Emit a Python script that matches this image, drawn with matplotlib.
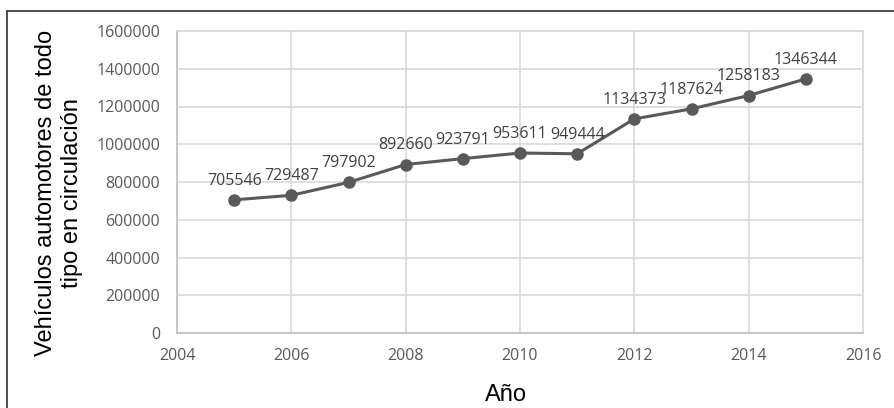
import matplotlib
matplotlib.use("Agg")
import matplotlib.pyplot as plt
from matplotlib.lines import Line2D

years = [2005, 2006, 2007, 2008, 2009, 2010, 2011, 2012, 2013, 2014, 2015]
vehicles = [705546, 729487, 797902, 892660, 923791, 953611, 949444,
            1134373, 1187624, 1258183, 1346344]
x_ticks = [2004, 2006, 2008, 2010, 2012, 2014, 2016]
y_ticks = [0, 200000, 400000, 600000, 800000, 1000000, 1200000, 1400000, 1600000]

W, H = 894, 408
fig = plt.figure(figsize=(W / 100, H / 100), dpi=100)
ax = fig.add_axes([177 / W, (H - 333) / H, (863 - 177) / W, (333 - 31) / H])

line_color = "#595959"
ax.plot(years, vehicles, color=line_color, lw=2.2, marker="o", ms=8,
        markerfacecolor=line_color, markeredgecolor=line_color, zorder=3)

for x, y in zip(years, vehicles):
    ax.annotate(str(y), (x, y), xytext=(0, 8), textcoords="offset points",
                ha="center", va="bottom", fontsize=11.5, color="#404040",
                family="Open Sans")

ax.set_xlim(2004, 2016)
ax.set_ylim(0, 1600000)
ax.set_xticks(x_ticks)
ax.set_yticks(y_ticks)
ax.set_xticklabels([str(t) for t in x_ticks], family="Open Sans", fontsize=11.5, color="#595959")
ax.set_yticklabels([str(t) for t in y_ticks], family="Open Sans", fontsize=11.5, color="#595959")
ax.tick_params(length=0, pad=12)
ax.tick_params(axis="x", pad=11)
ax.grid(True, color="#d9d9d9", lw=1.2)
ax.set_axisbelow(True)
for side in ["top", "right"]:
    ax.spines[side].set_color("#d9d9d9")
    ax.spines[side].set_linewidth(1.2)
for side in ["left", "bottom"]:
    ax.spines[side].set_color("#bfbfbf")
    ax.spines[side].set_linewidth(1.2)

fig.text(59 / W, 1 - 193 / H, "Vehículos automotores de todo\ntipo en circulación",
         rotation=90, ha="center", va="center", fontsize=17,
         family="Liberation Sans", color="black", linespacing=1.2)
fig.text(506 / W, 1 - 395 / H, "Año", ha="center", va="center", fontsize=17,
         family="Liberation Sans", color="black")

# chart frame
fig.add_artist(Line2D([7 / W, 7 / W], [0, 1 - 10.5 / H], transform=fig.transFigure,
                      color="#404040", lw=1.3))
fig.add_artist(Line2D([7 / W, 1], [1 - 10.5 / H, 1 - 10.5 / H], transform=fig.transFigure,
                      color="#404040", lw=1.3))

fig.savefig("out.png", dpi=100)
